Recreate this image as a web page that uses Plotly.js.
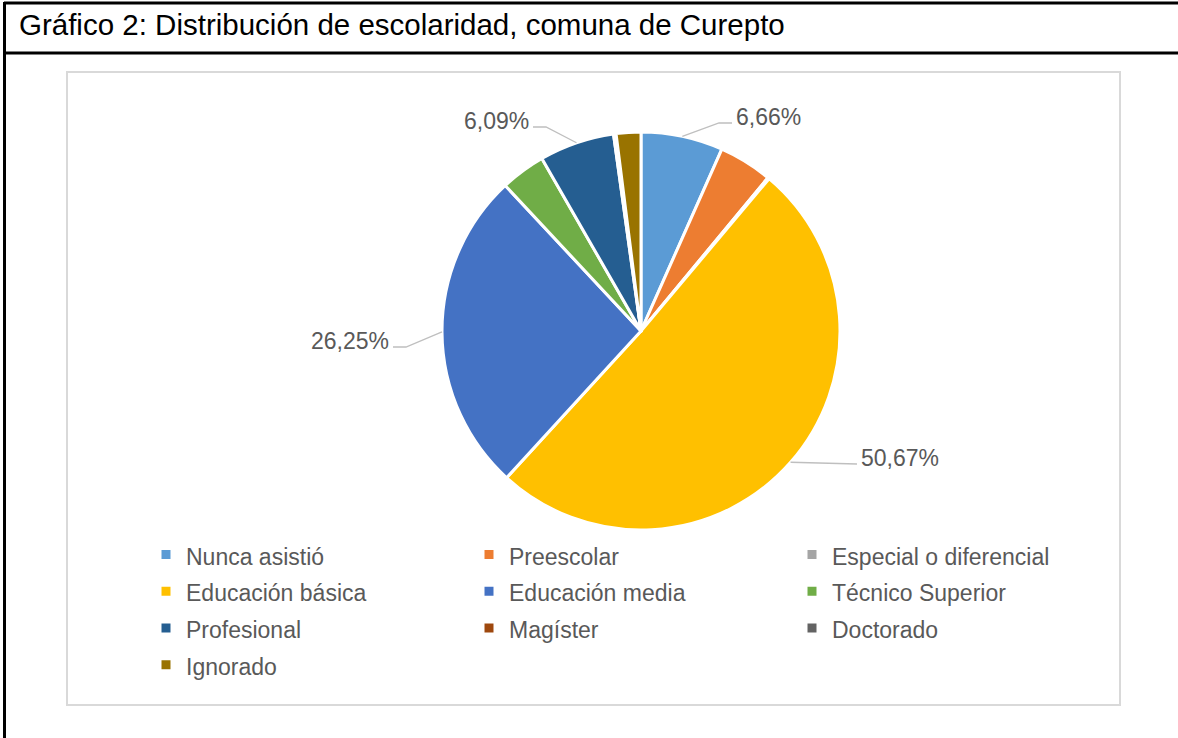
<!DOCTYPE html>
<html>
<head>
<meta charset="utf-8">
<script src="https://cdn.plot.ly/plotly-3.0.1.min.js"></script>
<style>
  html, body { margin: 0; padding: 0; background: #ffffff; }
  #chart { width: 1178px; height: 738px; }
</style>
</head>
<body>
<div id="chart"></div>
<script>
// ---- data ----
const categories = [
  'Nunca asistió', 'Preescolar', 'Especial o diferencial',
  'Educación básica', 'Educación media', 'Técnico Superior',
  'Profesional', 'Magíster', 'Doctorado', 'Ignorado'
];
const percentages = [6.66, 4.35, 0.12, 50.67, 26.25, 3.65, 6.09, 0.18, 0.03, 2.00];
const sliceColors = ['#5B9BD5', '#ED7D31', '#A5A5A5', '#FFC000', '#4472C4',
                     '#70AD47', '#255E91', '#9E480E', '#636363', '#997300'];
const labeledCategories = ['Nunca asistió', 'Profesional', 'Educación media', 'Educación básica'];
const chartTitle = 'Gráfico 2: Distribución de escolaridad, comuna de Curepto';

// ---- layout settings (pixels) ----
const W = 1178, H = 738;
const CX = 641, CY = 331, R = 199;
const labelPlacement = {
  'Nunca asistió':    { x: 734, y: 117, side: 'left'  },
  'Profesional':      { x: 531, y: 121, side: 'right' },
  'Educación media':  { x: 391, y: 341, side: 'right' },
  'Educación básica': { x: 859, y: 458, side: 'left'  }
};

const px = x => x / W;
const py = y => 1 - y / H;

// ---- leader lines & labels computed from the data ----
const total = percentages.reduce((a, b) => a + b, 0);
const shapes = [];
const annotations = [];
let cum = 0;
categories.forEach((c, i) => {
  const start = cum / total * 2 * Math.PI;
  cum += percentages[i];
  const end = cum / total * 2 * Math.PI;
  if (!labeledCategories.includes(c)) return;
  const mid = (start + end) / 2;
  const ex = CX + R * Math.sin(mid);
  const ey = CY - R * Math.cos(mid);
  const p = labelPlacement[c];
  const ly = p.y + 6;
  const tipX = p.side === 'left' ? p.x - 2 : p.x + 2;
  const elbowX = p.side === 'left' ? tipX - 13 : tipX + 13;
  let path;
  if (Math.abs(ly - ey) < 4) {
    path = `M${px(ex)},${py(ey)} L${px(tipX)},${py(ly)}`;
  } else {
    path = `M${px(ex)},${py(ey)} L${px(elbowX)},${py(ly)} L${px(tipX)},${py(ly)}`;
  }
  shapes.push({ type: 'path', xref: 'paper', yref: 'paper', path: path,
                line: { color: '#BFBFBF', width: 1.3 } });
  annotations.push({
    xref: 'paper', yref: 'paper', x: px(p.x), y: py(p.y),
    xanchor: p.side === 'left' ? 'left' : 'right', yanchor: 'middle',
    text: percentages[i].toFixed(2).replace('.', ',') + '%',
    showarrow: false,
    font: { family: 'Liberation Sans, Arial, sans-serif', size: 23, color: '#595959' }
  });
});

// frame lines
shapes.push(
  { type: 'line', xref: 'paper', yref: 'paper', x0: px(4), x1: px(W + 5), y0: py(3), y1: py(3),
    line: { color: '#000000', width: 3 } },
  { type: 'line', xref: 'paper', yref: 'paper', x0: px(4), x1: px(W + 5), y0: py(53), y1: py(53),
    line: { color: '#000000', width: 3 } },
  { type: 'line', xref: 'paper', yref: 'paper', x0: px(4.5), x1: px(4.5), y0: py(2), y1: py(H + 5),
    line: { color: '#000000', width: 3 } },
  { type: 'rect', xref: 'paper', yref: 'paper', x0: px(67), x1: px(1120), y0: py(72), y1: py(705),
    line: { color: '#D9D9D9', width: 2 }, layer: 'below' }
);

const trace = {
  type: 'pie',
  labels: categories.map(c => `<span style="font-size:23px">${c}</span>`),
  values: percentages,
  sort: false,
  direction: 'clockwise',
  rotation: 0,
  textinfo: 'none',
  hovertemplate: '%{label}: %{value:.2f}%<extra></extra>',
  marker: { colors: sliceColors, line: { color: '#ffffff', width: 3 } },
  domain: { x: [px(CX - R), px(CX + R)], y: [py(CY + R), py(CY - R)] }
};

const layout = {
  width: W, height: H,
  margin: { l: 0, r: 0, t: 0, b: 0, pad: 0 },
  paper_bgcolor: '#ffffff',
  title: {
    text: chartTitle,
    xref: 'paper', yref: 'paper',
    x: px(19), xanchor: 'left', y: py(25), yanchor: 'middle',
    font: { family: 'Liberation Sans, Arial, sans-serif', size: 29.5, color: '#000000' }
  },
  showlegend: true,
  legend: {
    orientation: 'h',
    x: px(146), xanchor: 'left',
    y: py(531), yanchor: 'top',
    entrywidth: 278, entrywidthmode: 'pixels',
    font: { family: 'Liberation Sans, Arial, sans-serif', size: 26, color: '#595959' },
    bgcolor: 'rgba(0,0,0,0)',
    traceorder: 'normal'
  },
  shapes: shapes,
  annotations: annotations
};

Plotly.newPlot('chart', [trace], layout, { displayModeBar: false, responsive: false });
</script>
</body>
</html>
